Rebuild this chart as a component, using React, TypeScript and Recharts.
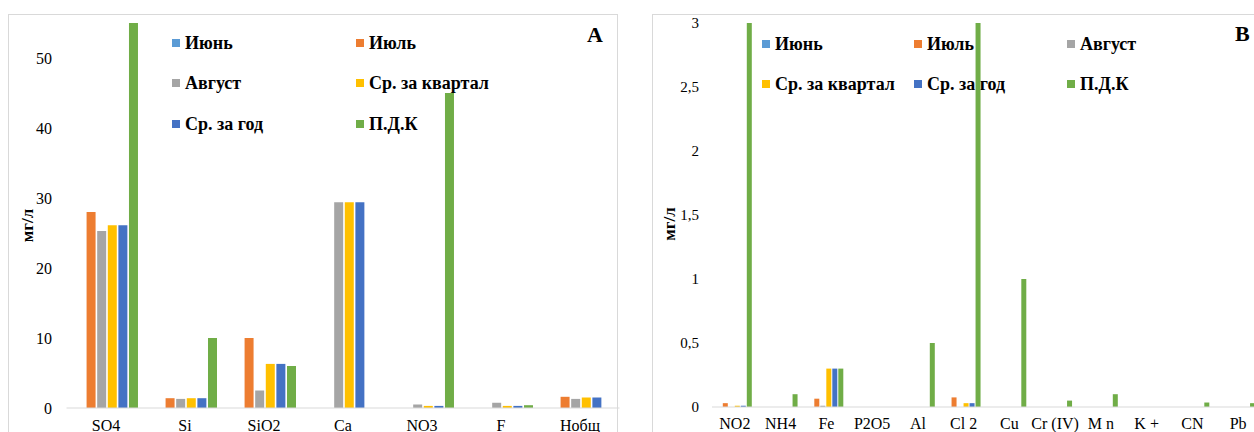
import React from 'react';
import { BarChart, Bar, XAxis, YAxis, Label } from 'recharts';

const seriesNames = ['Июнь', 'Июль', 'Август', 'Ср. за квартал', 'Ср. за год', 'П.Д.К'];
const seriesColors = ['#5B9BD5', '#ED7D31', '#A5A5A5', '#FFC000', '#4472C4', '#70AD47'];
const seriesKeys = ['jun', 'jul', 'aug', 'qtr', 'year', 'pdk'];

// Panel A
const categoriesA = ['SO4', 'Si', 'SiO2', 'Ca', 'NO3', 'F', 'Нобщ'];
const juneA = [null, null, null, null, null, null, null];
const julyA = [28, 1.4, 10, null, null, null, 1.6];
const augustA = [25.3, 1.3, 2.5, 29.4, 0.5, 0.75, 1.3];
const quarterA = [26.1, 1.4, 6.3, 29.4, 0.3, 0.3, 1.5];
const yearA = [26.1, 1.4, 6.3, 29.4, 0.3, 0.3, 1.5];
const pdkA = [55, 10, 6, null, 45, 0.4, null];
const ticksA = [0, 10, 20, 30, 40, 50];

// Panel B
const categoriesB = ['NO2', 'NH4', 'Fe', 'P2O5', 'Al', 'Cl 2', 'Cu', 'Cr (IV)', 'M n', 'K +', 'CN', 'Pb'];
const juneB = [null, null, null, null, null, null, null, null, null, null, null, null];
const julyB = [0.03, null, 0.065, null, null, 0.075, null, null, null, null, null, null];
const augustB = [null, null, 0.01, null, null, null, null, null, null, null, null, null];
const quarterB = [0.01, null, 0.3, null, null, 0.03, null, null, null, null, null, null];
const yearB = [0.01, null, 0.3, null, null, 0.03, null, null, null, null, null, null];
const pdkB = [3, 0.1, 0.3, null, 0.5, 3, 1, 0.05, 0.1, null, 0.035, 0.03];
const ticksB = [0, 0.5, 1, 1.5, 2, 2.5, 3];

const FONT = "'Liberation Serif', 'Times New Roman', serif";

function buildRows(cats: string[], series: (number | null)[][]) {
  return cats.map((c, i) => {
    const row: Record<string, any> = { cat: c };
    seriesKeys.forEach((k, j) => {
      row[k] = series[j][i];
    });
    return row;
  });
}

const dataA = buildRows(categoriesA, [juneA, julyA, augustA, quarterA, yearA, pdkA]);
const dataB = buildRows(categoriesB, [juneB, julyB, augustB, quarterB, yearB, pdkB]);

const makeYLabel = (offX: number, offY: number) => (props: any) => {
  const vb = props.viewBox || { x: 0, y: 0, width: 0, height: 0 };
  const x = vb.x + offX;
  const y = vb.y + vb.height / 2 + offY;
  return (
    <text
      x={x}
      y={y}
      transform={`rotate(-90 ${x} ${y})`}
      textAnchor="middle"
      dominantBaseline="central"
      fontFamily={FONT}
      fontWeight="bold"
      fontSize={17}
      fill="#000"
    >
      мг/л
    </text>
  );
};

const boldStyle: React.CSSProperties = {
  fontFamily: FONT,
  fontWeight: 'bold',
  color: '#000',
};

type LegendProps = { cols: number[]; rows: number[]; perRow: number };

const LegendBox = ({ cols, rows, perRow }: LegendProps) => (
  <>
    {seriesNames.map((name, i) => {
      const c = i % perRow;
      const r = Math.floor(i / perRow);
      return (
        <div
          key={name}
          style={{
            ...boldStyle,
            position: 'absolute',
            left: cols[c],
            top: rows[r] - 11,
            height: 22,
            display: 'flex',
            alignItems: 'center',
            whiteSpace: 'nowrap',
            fontSize: 18,
            lineHeight: '22px',
          }}
        >
          <span
            style={{
              display: 'inline-block',
              width: 8,
              height: 8,
              background: seriesColors[i],
              marginRight: 5,
              flex: 'none',
            }}
          />
          {name}
        </div>
      );
    })}
  </>
);

const tickStyle = { fontFamily: FONT, fontSize: 16, fill: '#000' };

export default function App() {
  return (
    <div
      style={{
        position: 'absolute',
        left: 0,
        top: 0,
        width: 1254,
        height: 432,
        overflow: 'hidden',
        background: '#fff',
      }}
    >
      {/* panel borders */}
      <div
        style={{
          position: 'absolute',
          left: 8,
          top: 14,
          width: 610,
          height: 500,
          border: '1px solid #D9D9D9',
          boxSizing: 'border-box',
        }}
      />
      <div
        style={{
          position: 'absolute',
          left: 652,
          top: 14,
          width: 700,
          height: 500,
          border: '1px solid #D9D9D9',
          boxSizing: 'border-box',
        }}
      />

      {/* Panel A legend + letter */}
      <LegendBox cols={[172, 356]} rows={[43, 83, 124]} perRow={2} />
      <div
        style={{
          ...boldStyle,
          position: 'absolute',
          left: 587,
          top: 24,
          fontSize: 22,
          lineHeight: '22px',
        }}
      >
        A
      </div>

      {/* Panel B legend + letter */}
      <LegendBox cols={[762, 914, 1067]} rows={[44, 84]} perRow={3} />
      <div
        style={{
          ...boldStyle,
          position: 'absolute',
          left: 1235,
          top: 23,
          fontSize: 22,
          lineHeight: '22px',
        }}
      >
        B
      </div>

      {/* Chart A */}
      <div style={{ position: 'absolute', left: 0, top: 0 }}>
        <BarChart
          width={640}
          height={460}
          data={dataA}
          margin={{ top: 23, right: 20.5, bottom: 22, left: 6.5 }}
          barCategoryGap="12%"
          barGap={1.6}
        >
          <XAxis
            dataKey="cat"
            interval={0}
            tickLine={false}
            axisLine={{ stroke: '#D9D9D9' }}
            tick={tickStyle}
            tickMargin={6}
            height={30}
          />
          <YAxis
            width={60}
            domain={[0, 55]}
            ticks={ticksA}
            allowDataOverflow
            axisLine={false}
            tickLine={false}
            tick={tickStyle}
            tickMargin={8.5}
          >
            <Label content={makeYLabel(20.5, 10)} />
          </YAxis>
          {seriesKeys.map((k, i) => (
            <Bar key={k} dataKey={k} name={seriesNames[i]} fill={seriesColors[i]} isAnimationActive={false} />
          ))}
        </BarChart>
      </div>

      {/* Chart B */}
      <div style={{ position: 'absolute', left: 640, top: 0 }}>
        <BarChart
          width={641}
          height={460}
          data={dataB}
          margin={{ top: 23, right: 20, bottom: 23, left: 12 }}
          barCategoryGap="10.5%"
          barGap={1}
        >
          <XAxis
            dataKey="cat"
            interval={0}
            tickLine={false}
            axisLine={{ stroke: '#D9D9D9' }}
            tick={tickStyle}
            tickMargin={5}
            height={30}
          />
          <YAxis
            width={60}
            domain={[0, 3]}
            ticks={ticksB}
            allowDataOverflow
            axisLine={false}
            tickLine={false}
            tick={{ ...tickStyle, fontSize: 15 }}
            tickMargin={7}
            tickFormatter={(v: number) => String(v).replace('.', ',')}
          >
            <Label content={makeYLabel(17, 9)} />
          </YAxis>
          {seriesKeys.map((k, i) => (
            <Bar key={k} dataKey={k} name={seriesNames[i]} fill={seriesColors[i]} isAnimationActive={false} />
          ))}
        </BarChart>
      </div>
    </div>
  );
}
